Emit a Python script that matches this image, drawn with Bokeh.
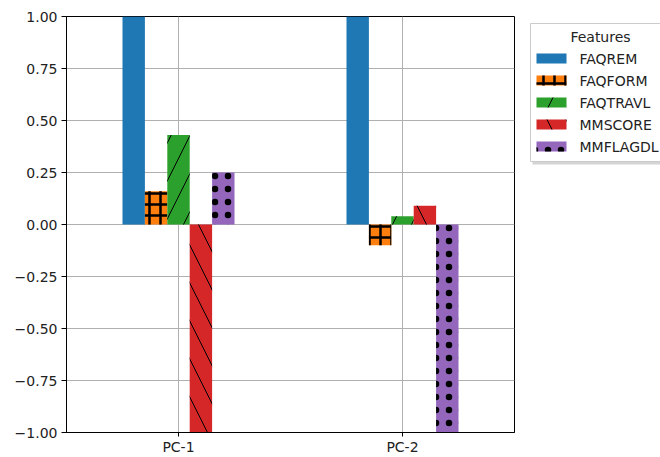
from bokeh.plotting import figure
from bokeh.layouts import row
from bokeh.models import FixedTicker, ColumnDataSource, Range1d
from bokeh.core.properties import value
from bokeh.embed import file_html
from bokeh.resources import INLINE

# Principal components and their feature loadings
components = ["PC-1", "PC-2"]
features = ["FAQREM", "FAQFORM", "FAQTRAVL", "MMSCORE", "MMFLAGDL"]
faqrem = [1.00, 1.00]
faqform = [0.16, -0.10]
faqtravl = [0.43, 0.04]
mmscore = [-1.00, 0.09]
mmflagdl = [0.25, -1.00]
y_ticks = [-1.0, -0.75, -0.5, -0.25, 0.0, 0.25, 0.5, 0.75, 1.0]
legend_title = "Features"

series = [faqrem, faqform, faqtravl, mmscore, mmflagdl]
colors = ["#1f77b4", "#ff7f0e", "#2ca02c", "#d62728", "#9467bd"]
hatches = [
    dict(hatch_pattern=" "),
    dict(hatch_pattern="cross", hatch_scale=11, hatch_weight=2.5, hatch_color="black"),
    dict(hatch_pattern="/", hatch_scale=38, hatch_weight=1, hatch_color="black"),
    dict(hatch_pattern="\\", hatch_scale=38, hatch_weight=1, hatch_color="black"),
    dict(hatch_pattern="dot", hatch_scale=13, hatch_weight=14, hatch_color="black"),
]
bar_w = 0.1

FONT = "DejaVu Sans"
TXT = "#222222"

# ---- main bar chart ----
p = figure(width=515, height=457, output_backend="svg", toolbar_location=None,
           x_range=(-0.5, 1.5), y_range=(-1.0, 1.0),
           min_border_left=66, min_border_right=1, min_border_top=16,
           min_border_bottom=25)
p.outline_line_color = "black"
p.outline_line_width = 1
p.background_fill_color = "white"
p.border_fill_color = "white"

n = len(features)
for i, (vals, col, h) in enumerate(zip(series, colors, hatches)):
    off = (i - (n - 1) / 2) * bar_w
    src = ColumnDataSource(dict(x=[j + off for j in range(len(components))], top=vals))
    p.vbar(x="x", top="top", bottom=0, width=bar_w, source=src,
           fill_color=col, line_color=None, **h)

p.xaxis.ticker = FixedTicker(ticks=list(range(len(components))))
p.xaxis.major_label_overrides = {j: c for j, c in enumerate(components)}
p.yaxis.ticker = FixedTicker(ticks=y_ticks)
p.yaxis.major_label_overrides = {t: f"{t:.2f}".replace("-", "\u2212") for t in y_ticks}
p.xaxis.minor_tick_line_color = None
p.yaxis.minor_tick_line_color = None
for ax in (p.xaxis, p.yaxis):
    ax.major_tick_in = 0
    ax.major_label_text_font = FONT
    ax.major_label_text_font_size = "14px"
    ax.major_label_text_color = TXT
    ax.axis_line_color = "black"
    ax.major_tick_line_color = "black"
p.yaxis.major_tick_out = 5
p.yaxis.major_label_standoff = 4
p.xaxis.major_tick_out = 4
p.xaxis.major_label_standoff = 2

p.xgrid.grid_line_color = "#b0b0b0"
p.ygrid.grid_line_color = "#b0b0b0"

# ---- legend panel ----
# The row aligns this panel's frame with the chart frame (y 16..432), so the
# range is set to those pixel rows, with y pointing down.
lg = figure(width=145, height=457, output_backend="svg", toolbar_location=None,
            x_range=Range1d(0, 145), y_range=Range1d(432, 16),
            x_axis_location=None, y_axis_location=None, min_border=0)
lg.grid.visible = False
lg.outline_line_color = None
lg.background_fill_color = "white"
lg.border_fill_color = "white"

box_l, box_t, box_r, box_b = 15, 23, 160, 161
lg.quad(left=box_l + 2, right=box_r + 2, top=box_t + 3, bottom=box_b + 3,
        fill_color="#b8b8b8", fill_alpha=0.6, line_color=None)
lg.quad(left=box_l, right=box_r, top=box_t, bottom=box_b,
        fill_color="white", line_color="#cccccc", line_width=1)
lg.text(x=[85], y=[36], text=[legend_title],
        text_font=value(FONT), text_font_size=value("14px"), text_color=TXT,
        text_align="center", text_baseline="middle")

row_y = [58 + 22 * i for i in range(n)]
for name, col, h, yy in zip(features, colors, hatches, row_y):
    lg.quad(left=21, right=51, top=yy - 5, bottom=yy + 5,
            fill_color=col, line_color=None, **h)
lg.text(x=[64] * n, y=row_y, text=features,
        text_font=value(FONT), text_font_size=value("14px"), text_color=TXT,
        text_align="left", text_baseline="middle")

layout = row(p, lg, spacing=0)
open("out.html", "w").write(file_html(layout, INLINE))
